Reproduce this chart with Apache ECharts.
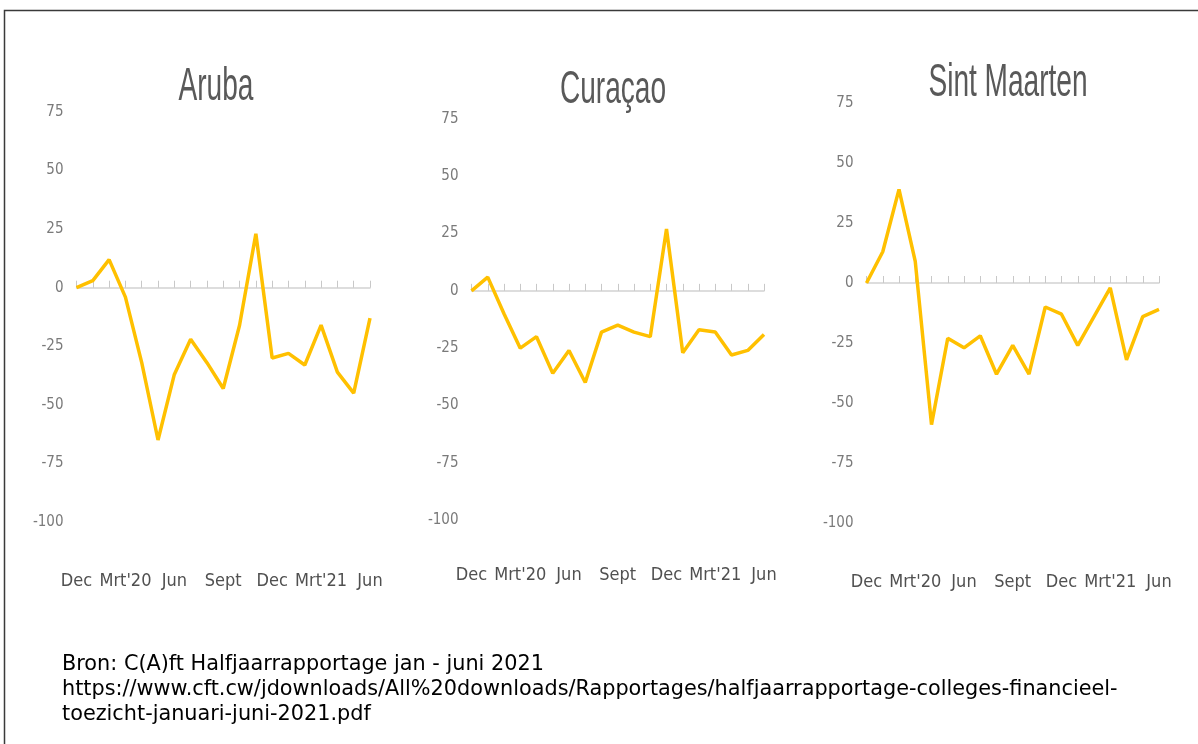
<!DOCTYPE html>
<html>
<head>
<meta charset="utf-8">
<script src="https://cdn.jsdelivr.net/npm/echarts@6/dist/echarts.min.js"></script>
<style>
  html, body { margin: 0; padding: 0; background: #fff; }
  #chart { width: 1198px; height: 744px; }
</style>
</head>
<body>
<div id="chart"></div>
<script>
// months Dec 2019 .. Jun 2021
const months = ['Dec', 'Jan', 'Feb', "Mrt'20", 'Apr', 'Mei', 'Jun', 'Jul', 'Aug', 'Sept', 'Okt', 'Nov',
                'Dec', 'Jan', 'Feb', "Mrt'21", 'Apr', 'Mei', 'Jun'];

const islands = ['Aruba', 'Curaçao', 'Sint Maarten'];

const aruba = [0, 3, 12, -4, -32, -65, -37, -22, -32, -43, -16, 23, -30, -28, -33, -16, -36, -45, -13];
const curacao = [0, 6, -10, -25, -20, -36, -26, -40, -18, -15, -18, -20, 27, -27, -17, -18, -28, -26, -19];
const sintMaarten = [0, 13, 39, 9, -59, -23, -27, -22, -38, -26, -38, -10, -13, -26, -14, -2, -32, -14, -11];

const yTicks = { min: -100, max: 75, step: 25 };

const sourceLines = [
    'Bron: C(A)ft Halfjaarrapportage jan - juni 2021',
    'https://www.cft.cw/jdownloads/All%20downloads/Rapportages/halfjaarrapportage-colleges-financieel-',
    'toezicht-januari-juni-2021.pdf'
];

// panel layout (pixels)
const panels = [
    { left: 76.5, right: 370, top: 112, bottom: 522, labelMargin: 50, titleX: 216, titleY: 87 },
    { left: 471.5, right: 764, top: 119, bottom: 520, labelMargin: 46, titleX: 613, titleY: 90 },
    { left: 866.5, right: 1159, top: 103, bottom: 523, labelMargin: 50, titleX: 1008, titleY: 83 }
];
const seriesData = [aruba, curacao, sintMaarten];

const condensed = 'DejaVu Sans Condensed';

let chart = echarts.init(document.getElementById('chart'));

let grids = [], xAxes = [], yAxes = [], series = [], graphics = [];

panels.forEach((p, i) => {
    grids.push({
        left: p.left,
        top: p.top,
        width: p.right - p.left,
        height: p.bottom - p.top,
        containLabel: false
    });
    // zero line with ticks
    xAxes.push({
        type: 'category',
        gridIndex: i,
        position: 'top',
        data: months,
        boundaryGap: false,
        axisLine: { show: true, onZero: true, lineStyle: { color: '#d2d2d2', width: 1.5 } },
        axisTick: { show: true, inside: false, length: 7, interval: 0, lineStyle: { color: '#c8c8c8', width: 1 } },
        axisLabel: { show: false },
        splitLine: { show: false }
    });
    // month labels at the bottom
    xAxes.push({
        type: 'category',
        gridIndex: i,
        position: 'bottom',
        data: months,
        boundaryGap: false,
        axisLine: { show: false, onZero: false },
        axisTick: { show: false },
        axisLabel: {
            interval: 2,
            margin: p.labelMargin,
            color: '#505050',
            fontSize: 18,
            fontFamily: condensed
        },
        splitLine: { show: false }
    });
    yAxes.push({
        type: 'value',
        gridIndex: i,
        min: yTicks.min,
        max: yTicks.max,
        interval: yTicks.step,
        axisLine: { show: false },
        axisTick: { show: false },
        splitLine: { show: false },
        axisLabel: {
            margin: 13,
            color: '#7a7a7a',
            fontSize: 15,
            fontFamily: condensed
        }
    });
    series.push({
        name: islands[i],
        type: 'line',
        xAxisIndex: i * 2,
        yAxisIndex: i,
        data: seriesData[i],
        symbol: 'none',
        lineStyle: { color: '#FFC000', width: 3.5 },
        z: 5
    });
    graphics.push({
        type: 'text',
        x: p.titleX,
        y: p.titleY,
        scaleX: 0.61,
        style: {
            text: islands[i],
            fill: '#595959',
            fontSize: 46,
            fontFamily: 'Liberation Sans',
            align: 'center',
            verticalAlign: 'middle'
        }
    });
});

sourceLines.forEach((line, k) => {
    graphics.push({
        type: 'text',
        x: 62,
        y: 665 + k * 25,
        style: {
            text: line,
            fill: '#000',
            fontSize: 20.8,
            fontFamily: 'DejaVu Sans',
            align: 'left',
            verticalAlign: 'middle'
        }
    });
});

// frame (top and left edges visible)
graphics.push({
    type: 'polyline',
    shape: { points: [[4.5, 744], [4.5, 10.5], [1198, 10.5]] },
    style: { stroke: '#3a3a3a', lineWidth: 1.5, fill: null }
});

let option = {
    animation: false,
    grid: grids,
    xAxis: xAxes,
    yAxis: yAxes,
    series: series,
    graphic: graphics
};

option && chart.setOption(option);
</script>
</body>
</html>
